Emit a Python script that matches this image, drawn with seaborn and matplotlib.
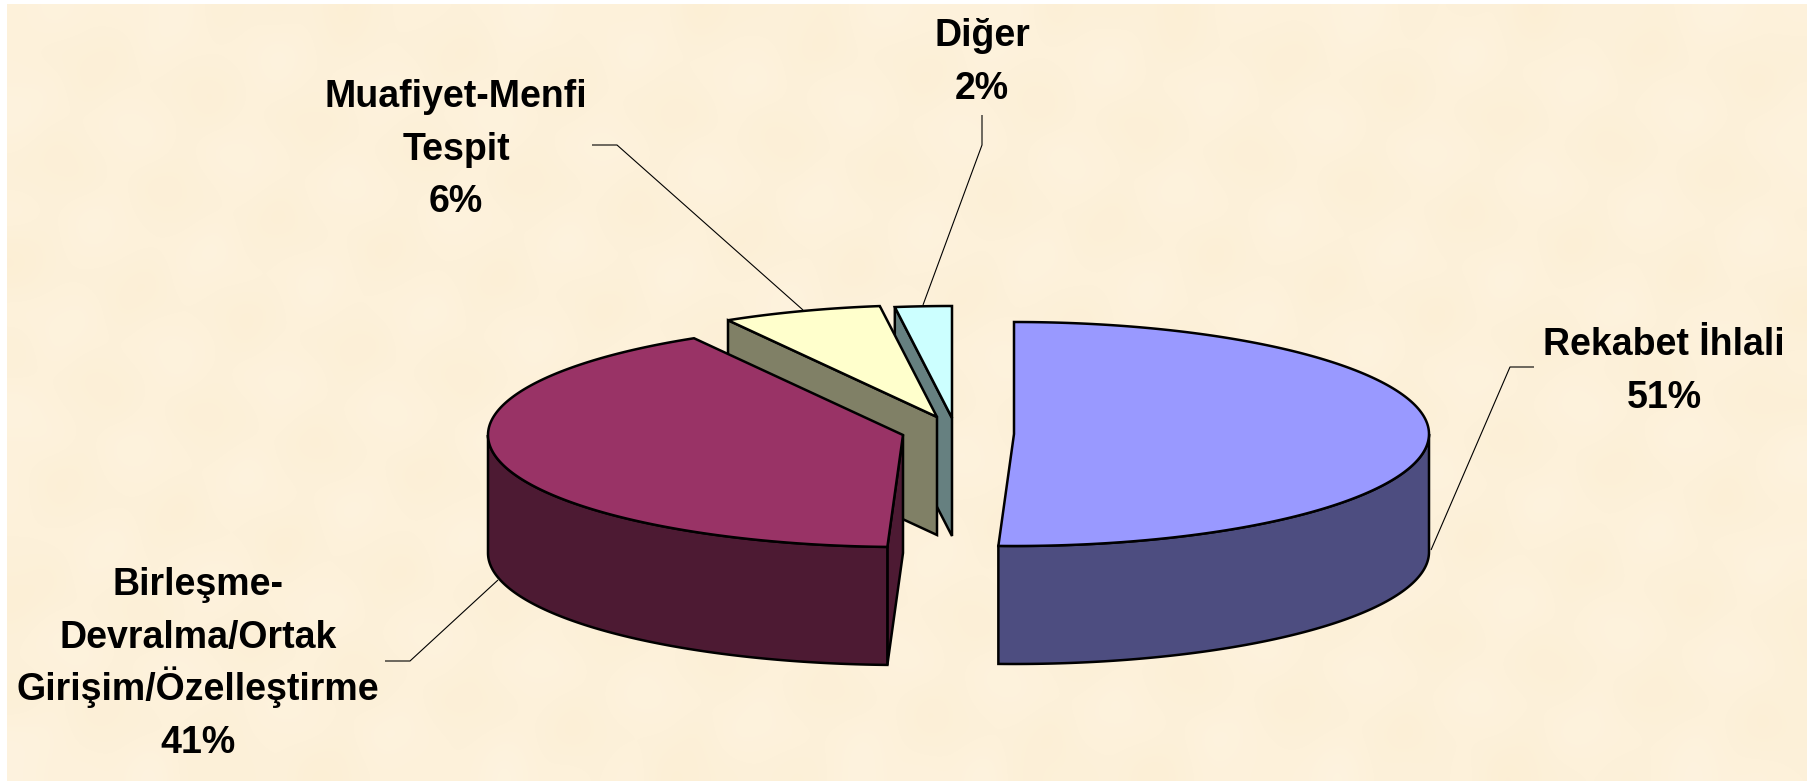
import numpy as np
import matplotlib
matplotlib.use('Agg')
import matplotlib.pyplot as plt
import seaborn as sns

# (labels show the rounded values)
categories = ['Rekabet İhlali', 'Birleşme-\nDevralma/Ortak\nGirişim/Özelleştirme', 'Muafiyet-Menfi\nTespit', 'Diğer']
values = [50.6, 41.0, 6.2, 2.2]
top_colors = ['#9999FF', '#993366', '#FFFFCC', '#CCFFFF']

# layout, in image pixels
W, H = 1807, 781
RX, RY, DEPTH = 415, 112, 118
CENTER_X = [1014, 903, 937, 952]
CENTER_Y = [434, 435, 417, 418]
LABEL_X = [1664, 198, 456, 982]
LABEL_BASE = [355, 595, 107, 46]
LINE_PITCH = 52.6
LEADERS = [
    [(1431, 550), (1510, 367), (1534, 367)],
    [(498, 580), (410, 661), (385, 661)],
    [(803, 310), (617, 145), (592, 145)],
    [(923, 305), (982, 145), (982, 115)],
]


def ellipse(cx, cy, theta):
    return cx + RX * np.cos(theta), cy - RY * np.sin(theta)


def draw_slice(ax, cx, cy, a0, a1, color):
    side = tuple(c / 2 for c in color)
    style = dict(edgecolor='black', linewidth=1.8, joinstyle='miter')

    # wall on the cut edge
    ex, ey = ellipse(cx, cy, a0)
    ax.fill([cx, ex, ex, cx], [cy, ey, ey + DEPTH, cy + DEPTH], facecolor=side, **style)

    # outer wall, only the front half of the rim shows
    lo, hi = max(a1, -np.pi), min(a0, 0)
    if lo < hi:
        t = np.linspace(hi, lo, 120)
        x, y = ellipse(cx, cy, t)
        ax.fill(np.r_[x, x[::-1]], np.r_[y, (y + DEPTH)[::-1]], facecolor=side, **style)

    # top face
    t = np.linspace(a0, a1, 200)
    x, y = ellipse(cx, cy, t)
    ax.fill(np.r_[cx, x], np.r_[cy, y], facecolor=color, **style)


def main():
    sns.set_theme(style='white')
    plt.rcParams['font.family'] = ['Liberation Sans', 'DejaVu Sans']

    fig = plt.figure(figsize=(W / 100, H / 100), dpi=100, facecolor='white')
    ax = fig.add_axes([0, 0, 1, 1])
    ax.axis('off')

    # parchment background, white strip only on the left and top
    yy, xx = np.mgrid[0:24, 0:56]
    tex = (np.sin(xx * 1.7 + yy * 0.6) + np.sin(xx * 0.5 - yy * 1.9) + np.sin(xx * 2.9 + yy * 2.3)) / 3
    base = np.array([253, 241, 218]) / 255
    img = np.clip(base[None, None, :] + tex[:, :, None] * np.array([0.006, 0.014, 0.032]), 0, 1)
    ax.imshow(img, extent=(7, W, H, 4), aspect='auto', interpolation='bicubic', zorder=0)
    ax.set_xlim(0, W)
    ax.set_ylim(H, 0)

    colors = sns.color_palette(top_colors)
    edges = np.pi / 2 - 2 * np.pi * np.r_[0, np.cumsum(values)] / sum(values)

    # back to front, so the big slices cover the small ones
    for i in [3, 2, 1, 0]:
        draw_slice(ax, CENTER_X[i], CENTER_Y[i], edges[i], edges[i + 1], colors[i])

    for pts in LEADERS:
        ax.plot(*zip(*pts), color='black', lw=0.8, solid_capstyle='butt')

    # one text per line, multi-line text gives an uneven pitch here
    for i, name in enumerate(categories):
        lines = name.split('\n') + [f"{round(values[i])}%"]
        for k, line in enumerate(lines):
            ax.text(LABEL_X[i], LABEL_BASE[i] + k * LINE_PITCH, line, ha='center', va='baseline',
                    fontsize=27, fontweight='bold', color='black')

    fig.savefig('out.png', dpi=100)


if __name__ == "__main__":
    main()
